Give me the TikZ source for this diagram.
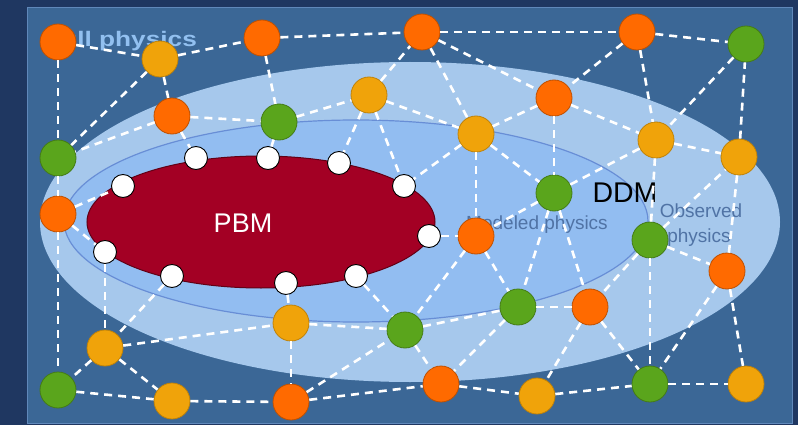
\documentclass[tikz,border=0pt]{standalone}
\usepackage{fontspec}
\setmainfont{Liberation Sans}
\definecolor{navy}{RGB}{31,55,97}
\definecolor{panelblue}{RGB}{59,103,150}
\definecolor{panelrim}{RGB}{96,136,186}
\definecolor{fullblue}{RGB}{166,200,236}
\definecolor{modblue}{RGB}{146,189,241}
\definecolor{modrim}{RGB}{104,142,214}
\definecolor{pbmred}{RGB}{163,0,36}
\definecolor{labelblue}{RGB}{80,115,165}
\definecolor{fulltext}{RGB}{146,192,240}
\definecolor{ballorange}{RGB}{255,106,0}
\definecolor{ballamber}{RGB}{240,163,10}
\definecolor{ballgreen}{RGB}{90,165,28}

\begin{document}
\begin{tikzpicture}[x=1pt,y=-1pt,
    ball/.style={circle,inner sep=0pt,minimum size=36pt,line width=0.8pt},
    orangeball/.style={ball,fill=ballorange,draw=ballorange!75!black},
    amberball/.style={ball,fill=ballamber,draw=ballamber!80!black},
    greenball/.style={ball,fill=ballgreen,draw=ballgreen!75!black},
    whiteball/.style={circle,inner sep=0pt,minimum size=23pt,fill=white,draw=black,line width=0.9pt},
    link/.style={white,line width=2.6pt,dash pattern=on 8pt off 6pt}]
% background and regions
\fill[navy] (0,0) rectangle (798,425);
\draw[panelrim,fill=panelblue,line width=0.8pt] (27,7) rectangle (792,423);
\fill[fullblue] (410,222) ellipse [x radius=370, y radius=160];
\draw[modrim,fill=modblue,line width=1.2pt] (356,221) ellipse [x radius=292, y radius=101];
\draw[pbmred!60!black,fill=pbmred,line width=1pt] (261,222) ellipse [x radius=174, y radius=66];

% region labels
\node[anchor=base west,inner sep=0pt,text=fulltext,font=\fontsize{21}{24}\selectfont\bfseries] (fulllbl) at (45,47) {\scalebox{1.25}[1]{Full physics}};
\node[anchor=base,inner sep=0pt,text=labelblue,font=\fontsize{19}{22}\selectfont] (modlbl) at (537,229) {Modeled physics};
\node[anchor=base,inner sep=0pt,text=labelblue,font=\fontsize{19}{22}\selectfont] (obslbl) at (701,217) {Observed};
\node[anchor=base,inner sep=0pt,text=labelblue,font=\fontsize{19}{22}\selectfont] (obslblb) at (699,242) {physics};
\node[text=white,font=\fontsize{27}{30}\selectfont] (pbm) at (243,223) {PBM};
\node[text=black,font=\fontsize{28.5}{30}\selectfont] (ddm) at (625,193) {DDM};

% data points
\foreach \n/\p in {o1/{58,42},o2/{262,38},o3/{422,32},o4/{637,32},o5/{172,116},o6/{554,98},
    o7/{58,214},o8/{476,236},o9/{727,271},o10/{590,307},o11/{441,384},o12/{291,402}}
  \node[orangeball] (\n) at (\p) {};
\foreach \n/\p in {y1/{160,59},y2/{369,95},y3/{476,134},y4/{656,140},y5/{739,157},
    y6/{291,323},y7/{105,348},y8/{172,401},y9/{537,396},y10/{746,384}}
  \node[amberball] (\n) at (\p) {};
\foreach \n/\p in {g1/{746,44},g2/{279,122},g3/{58,158},g4/{554,193},g5/{650,240},
    g6/{518,307},g7/{405,330},g8/{58,390},g9/{650,384}}
  \node[greenball] (\n) at (\p) {};
\foreach \n/\p in {w1/{123,186},w2/{196,158},w3/{268,158},w4/{339,163},w5/{404,186},
    w6/{429,236},w7/{105,252},w8/{172,276},w9/{286,283},w10/{356,276}}
  \node[whiteball] (\n) at (\p) {};

% links
\foreach \a/\b in {o1/y1,y1/o2,o1/g3,y1/g3,y1/o5,o5/g3,o5/g2,o2/g2,o2/o3,g2/y2,
    o5/w2,g2/w3,y2/w4,y2/w5,y2/o3,y2/y3,g3/o7,o7/w1,o7/w7,o7/g8,
    w7/y7,w8/y7,y7/g8,y7/y8,g8/y8,y8/o12,y7/y6,w9/y6,y6/o12,y6/g7,
    o12/g7,o12/o11,w10/g7,w6/o8,o8/g7,o8/g6,g4/g6,g4/o10,g7/g6,g6/o10,
    g7/o11,g6/o11,o10/y9,o11/y9,g5/o10,g5/g9,g5/o9,o9/g9,o9/y10,g9/y10,
    y9/g9,o10/g9,g5/y4,g5/y5,y5/o9,y4/y5,g4/y4,o6/y4,y5/g1,g1/y4,
    o4/g1,o4/y4,o4/o6,o3/o4,o3/o6,o3/y3,o6/y3,o6/g4,y3/g4,y3/w5,
    y3/o8,g4/o8}
  \draw[link] (\a) -- (\b);
\end{tikzpicture}
\end{document}
